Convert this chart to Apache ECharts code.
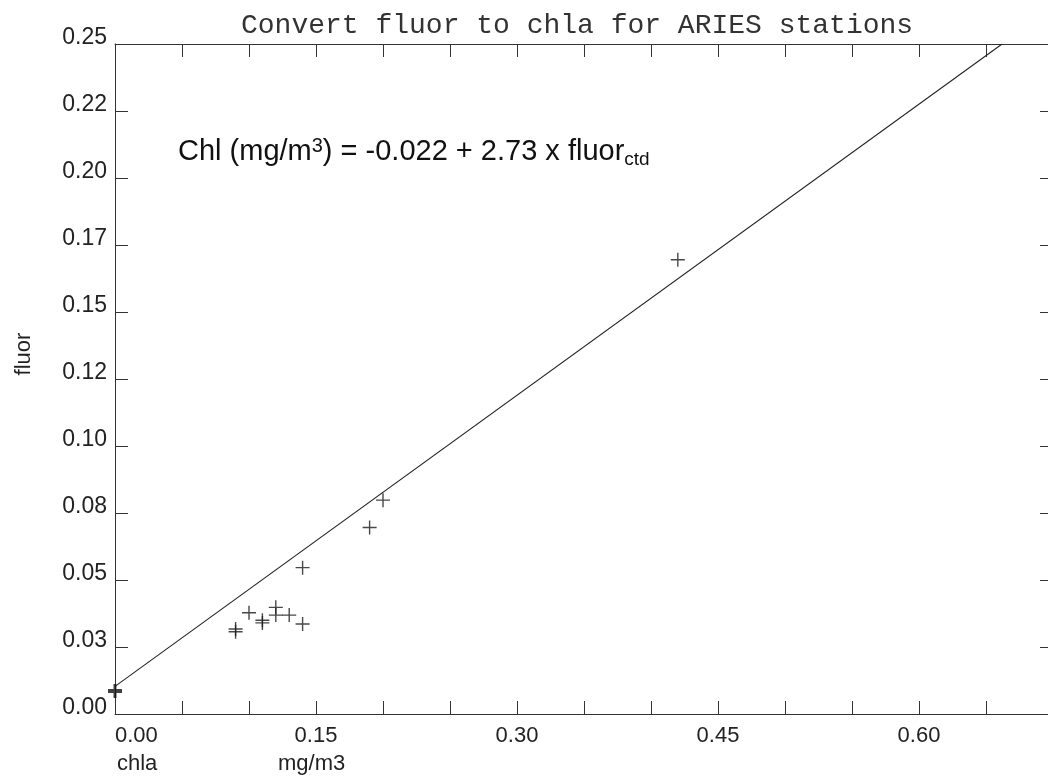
<!DOCTYPE html>
<html>
<head>
<meta charset="utf-8">
<script src="https://cdn.jsdelivr.net/npm/echarts@6/dist/echarts.min.js"></script>
<style>
html,body{margin:0;padding:0;background:#fff;}
#chart{width:1048px;height:780px;}
</style>
</head>
<body>
<div id="chart"></div>
<script>
// ---- data ----
const titleText = 'Convert fluor to chla for ARIES stations';
const yTickLabels = ['0.00','0.03','0.05','0.08','0.10','0.12','0.15','0.17','0.20','0.22','0.25'];
const xTickLabels = ['0.00','0.15','0.30','0.45','0.60'];
const chla  = [0.200, 0.190, 0.140, 0.100, 0.120, 0.120, 0.130, 0.110, 0.110, 0.140, 0.090, 0.090, 0.420];
const fluor = [0.0798,0.0696,0.0546,0.0378,0.0398,0.0369,0.0369,0.0350,0.0340,0.0336,0.0317,0.0307,0.1695];
const fitX = [0, 0.662];
const fitY = [0.0103, 0.25];
const interceptPoint = [0, 0.0086];
const xName1 = 'chla';
const xName2 = 'mg/m3';
const yName = 'fluor';

const SANS = "'Liberation Sans', Arial, Helvetica, sans-serif";
const MONO = "'Liberation Mono', 'Courier New', monospace";
const INK = '#222';

const points = chla.map((x, i) => [x, fluor[i]]);
const fitLine = fitX.map((x, i) => [x, fitY[i]]);

const plusThin = 'path://M0,6.3H14V7.7H0Z M6.3,0H7.7V14H6.3Z';
const plusBold = 'path://M0,5H14V9H0Z M5.5,0H8.5V14H5.5Z';

const chart = echarts.init(document.getElementById('chart'), null, {renderer: 'canvas'});

const tickStyle = {show: true, inside: true, length: 13, lineStyle: {color: '#333', width: 1}};
const lineStyleAx = {show: true, onZero: false, lineStyle: {color: '#333', width: 1}};

chart.setOption({
  animation: false,
  backgroundColor: '#fff',
  title: {
    text: titleText,
    left: 236,
    top: 7,
    textStyle: {fontFamily: MONO, fontSize: 28, fontWeight: 'normal', color: '#333'}
  },
  grid: {left: 115, top: 44, width: 938, bottom: 66, containLabel: false, outerBoundsMode: 'none'},
  xAxis: [
    {
      type: 'value', position: 'bottom', min: 0, max: 0.7, interval: 0.05,
      axisLine: lineStyleAx, axisTick: tickStyle, splitLine: {show: false},
      axisLabel: {
        show: true, fontFamily: SANS, fontSize: 22, color: INK, margin: 11,
        alignMinLabel: 'left',
        formatter: function (v) {
          const i = Math.round(v / 0.05);
          if (i % 3 !== 0) return '';
          const k = i / 3;
          return k < xTickLabels.length ? xTickLabels[k] : '';
        }
      }
    },
    {
      type: 'value', position: 'top', min: 0, max: 0.7, interval: 0.05,
      axisLine: lineStyleAx, axisTick: tickStyle, splitLine: {show: false},
      axisLabel: {show: false}
    }
  ],
  yAxis: [
    {
      type: 'value', position: 'left', min: 0, max: 0.25, interval: 0.025,
      axisLine: lineStyleAx, axisTick: tickStyle, splitLine: {show: false},
      axisLabel: {
        show: true, fontFamily: SANS, fontSize: 23, color: INK, margin: 8,
        verticalAlign: 'bottom', lineHeight: 13,
        formatter: function (v) {
          const i = Math.round(v / 0.025);
          return yTickLabels[i] || '';
        }
      }
    },
    {
      type: 'value', position: 'right', min: 0, max: 0.25, interval: 0.025,
      axisLine: lineStyleAx, axisTick: tickStyle, splitLine: {show: false},
      axisLabel: {show: false}
    }
  ],
  series: [
    {
      type: 'line', xAxisIndex: 0, yAxisIndex: 0, data: fitLine,
      showSymbol: false, symbol: 'none',
      lineStyle: {color: INK, width: 1.1}, silent: true
    },
    {
      type: 'scatter', xAxisIndex: 0, yAxisIndex: 0, data: points,
      symbol: plusThin, symbolSize: 14,
      itemStyle: {color: '#1a1a1a'}, silent: true
    },
    {
      type: 'scatter', xAxisIndex: 0, yAxisIndex: 0, data: [interceptPoint],
      symbol: plusBold, symbolSize: 14, clip: false,
      itemStyle: {color: '#111'}, silent: true
    }
  ],
  graphic: [
    {
      type: 'text', left: 178, top: 135, silent: true,
      style: {
        text: '{a|Chl (mg/m}{sup|3}{a|) = -0.022 + 2.73 x fluor}{sub|ctd}',
        fill: '#111',
        rich: {
          a: {fontFamily: SANS, fontSize: 29, fill: '#111', lineHeight: 34},
          sup: {fontFamily: SANS, fontSize: 20, fill: '#111', lineHeight: 34, verticalAlign: 'top', padding: [1, 0, 0, 0]},
          sub: {fontFamily: SANS, fontSize: 19, fill: '#111', lineHeight: 34, verticalAlign: 'bottom', padding: [0, 0, 0, 0]}
        }
      }
    },
    {
      type: 'text', x: 24, y: 354, rotation: Math.PI / 2, silent: true,
      style: {text: yName, fontFamily: SANS, fontSize: 22, fill: INK, align: 'center', verticalAlign: 'middle'}
    },
    {
      type: 'text', x: 117, y: 764, silent: true,
      style: {text: xName1, fontFamily: SANS, fontSize: 22, fill: INK, align: 'left', verticalAlign: 'middle'}
    },
    {
      type: 'text', x: 278, y: 764, silent: true,
      style: {text: xName2, fontFamily: SANS, fontSize: 22, fill: INK, align: 'left', verticalAlign: 'middle'}
    }
  ]
});
</script>
</body>
</html>
